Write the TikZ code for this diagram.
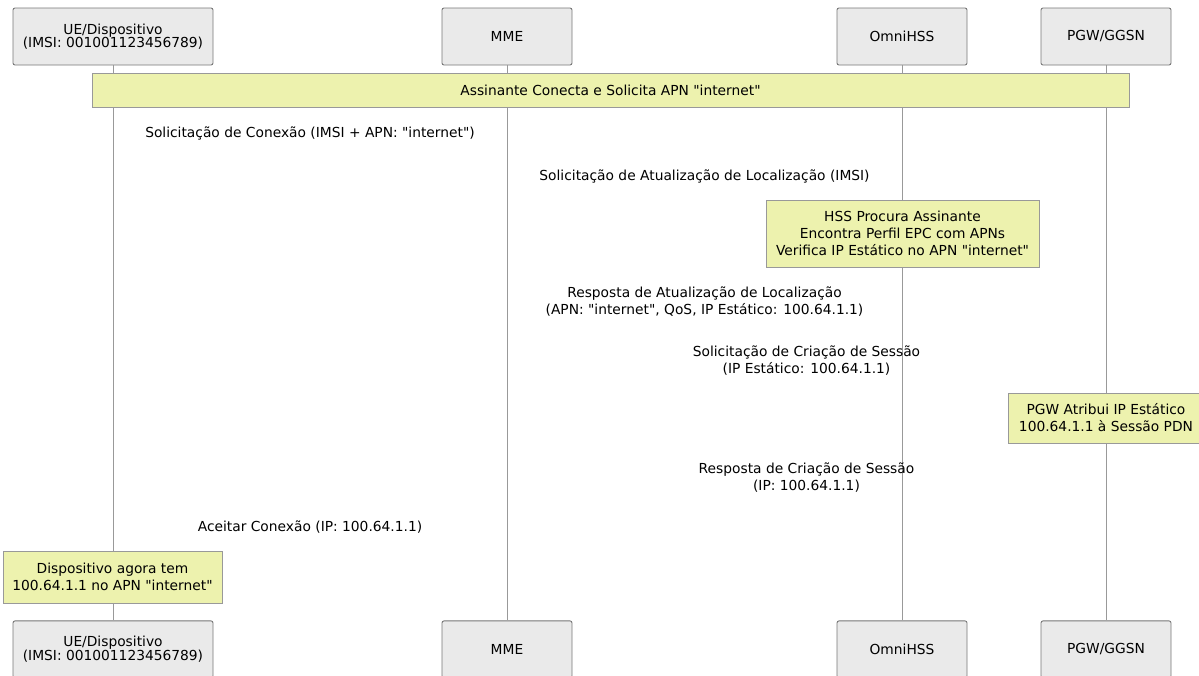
\documentclass[tikz,border=0pt]{standalone}
\usepackage{fontspec}
\setmainfont{DejaVu Sans}
\usetikzlibrary{positioning, calc}

\definecolor{actorfill}{HTML}{EAEAEA}
\definecolor{actorline}{HTML}{777777}
\definecolor{notefill}{HTML}{EDF2AE}
\definecolor{noteline}{HTML}{999999}
\definecolor{lifeline}{HTML}{999999}

\newcommand{\apn}[1]{\textquotedbl#1\textquotedbl}

\begin{document}
\begin{tikzpicture}
            [x=1pt, y=-1pt, node distance=555pt,
            actor/.style={rectangle, rounded corners=2pt, draw=actorline, fill=actorfill, line width=0.9pt,
                minimum height=57pt, minimum width=130pt, inner sep=0pt, align=center,
                font=\fontsize{13.8}{13.5}\selectfont},
            note/.style={rectangle, draw=noteline, fill=notefill, line width=0.9pt, inner sep=0pt,
                align=center, font=\fontsize{13.8}{17}\selectfont},
            msg/.style={align=center, inner sep=0pt, font=\fontsize{13.8}{17}\selectfont},
            life/.style={draw=lifeline, line width=0.7pt}]
            \path[use as bounding box] (0,0) rectangle (1199,675);
            \clip (0,0) rectangle (1199,675);

            % participants
            \node[actor, minimum width=200pt]  (ueTop)   at (113,36.5)  {UE/Dispositivo\\(IMSI: 001001123456789)};
            \node[actor]  (mmeTop)  at (507,36.5)  {MME};
            \node[actor]  (hssTop)  at (902,36.5)  {OmniHSS};
            \node[actor]  (pgwTop)  at (1106,36.5) {PGW/GGSN};

            \node[actor, minimum width=200pt]  (ueBot)   [below = of ueTop]  {UE/Dispositivo\\(IMSI: 001001123456789)};
            \node[actor]  (mmeBot)  [below = of mmeTop] {MME};
            \node[actor]  (hssBot)  [below = of hssTop] {OmniHSS};
            \node[actor]  (pgwBot)  [below = of pgwTop] {PGW/GGSN};

            % lifelines
            \path[life] (ueTop) -- (ueBot)
                        (mmeTop) -- (mmeBot)
                        (hssTop) -- (hssBot)
                        (pgwTop) -- (pgwBot);

            % notes
            \node[note, minimum width=1037pt, minimum height=34pt]  (start)  at (610.5,90)
                {Assinante Conecta e Solicita APN \apn{internet}};
            \node[note, minimum width=273pt, minimum height=67pt]   (hssNote)  at (902.5,233.5)
                {HSS Procura Assinante\\Encontra Perfil EPC com APNs\\Verifica IP Estático no APN \apn{internet}};
            \node[note, minimum width=196pt, minimum height=50pt]   (pgwNote)  at (1106,418)
                {PGW Atribui IP Estático\\100.64.1.1 à Sessão PDN};
            \node[note, minimum width=219pt, minimum height=52pt]   (ueNote)   at (112.5,577)
                {Dispositivo agora tem\\100.64.1.1 no APN \apn{internet}};

            % messages
            \node[msg]  (attachReq)   at (310,133)   {Solicitação de Conexão (IMSI + APN: \apn{internet})};
            \node[msg]  (ulr)         at (704.5,176) {Solicitação de Atualização de Localização (IMSI)};
            \node[msg]  (ula)         at (704.5,301.5) {Resposta de Atualização de Localização\\(APN: \apn{internet}, QoS, IP Estático: 100.64.1.1)};
            \node[msg]  (csReq)       at (806.5,360.5) {Solicitação de Criação de Sessão\\(IP Estático: 100.64.1.1)};
            \node[msg]  (csResp)      at (806.5,478) {Resposta de Criação de Sessão\\(IP: 100.64.1.1)};
            \node[msg]  (attachAcc)   at (310,527)   {Aceitar Conexão (IP: 100.64.1.1)};
        \end{tikzpicture}
\end{document}
